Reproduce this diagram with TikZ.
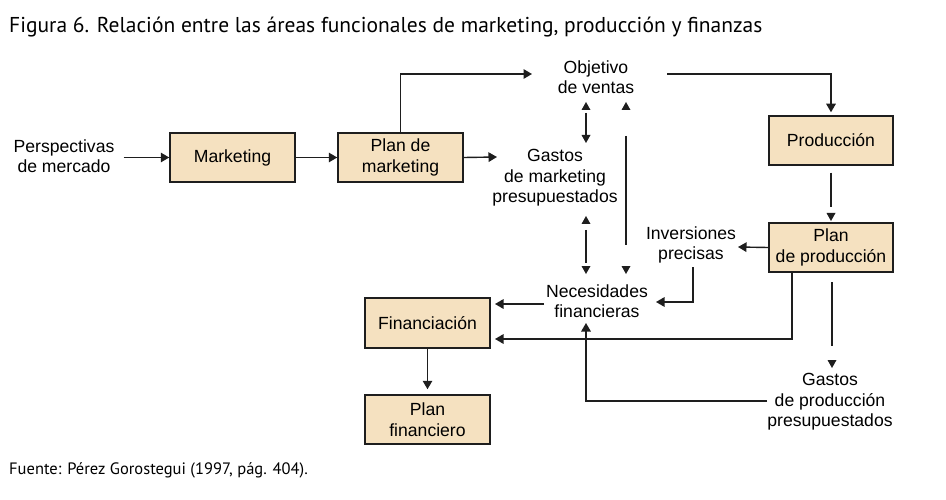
\documentclass[tikz,border=0pt]{standalone}
\usepackage{fontspec}
\setmainfont{Liberation Sans}
\newfontfamily\capfont{PT Sans}
\usetikzlibrary{arrows.meta}
\definecolor{boxfill}{RGB}{245,225,192}
\definecolor{ink}{RGB}{30,30,30}
\newcommand\tipdown[1]{\fill[ink] (#1) -- ++(-4.5,-8) -- ++(9,0) -- cycle;}
\newcommand\tipup[1]{\fill[ink] (#1) -- ++(-4.5,8) -- ++(9,0) -- cycle;}
\begin{document}
\begin{tikzpicture}[x=1pt,y=-1pt,
  box/.style={draw=ink, line width=1.5pt, fill=boxfill, minimum width=125pt, minimum height=49pt, inner sep=0pt, align=center, font=\fontsize{17.6}{20.5}\selectfont},
  lbl/.style={align=center, inner sep=0pt, font=\fontsize{17.6}{20.5}\selectfont},
  conn/.style={draw=ink, line width=1.4pt},
  arr/.style={conn, -{Triangle[width=9.5pt,length=8.5pt]}},
]
\useasboundingbox (0,0) rectangle (946,500);
\fill[white] (0,0) rectangle (946,500);

\node[anchor=base west, inner sep=0pt, font=\capfont\fontsize{21.5}{24}\selectfont] (title) at (9,33) {Figura 6. Relación entre las áreas funcionales de marketing, producción y finanzas};
\node[anchor=base west, inner sep=0pt, font=\capfont\fontsize{16.5}{19}\selectfont] (src) at (9,474) {Fuente: Pérez Gorostegui (1997, pág. 404).};

% boxes
\node[box] (mkt) at (232.5,157.5) {Marketing};
\node[box] (pmkt) at (400.5,157.5) {Plan de\\marketing};
\node[box, minimum width=124pt] (prod) at (831,140.5) {Producción};
\node[box, minimum width=124pt] (pprod) at (831,247.5) {Plan\\de producción};
\node[box, minimum height=50pt] (fin) at (427.5,323) {Financiación};
\node[box] (pfin) at (427.5,419.5) {Plan\\financiero};

% labels
\node[lbl] (persp) at (64,156) {Perspectivas\\de mercado};
\node[lbl] (obj) at (596,77) {Objetivo\\de ventas};
\node[lbl] (gmkt) at (555,178) {Gastos\\de marketing\\presupuestados};
\node[lbl] (inv) at (691,245) {Inversiones\\precisas};
\node[lbl] (nec) at (597,301) {Necesidades\\financieras};
\node[lbl] (gprod) at (830,402) {Gastos\\de producción\\presupuestados};

% coordinates
\coordinate (objin) at (532,74);
\coordinate (gin) at (497,157);
\coordinate (objout) at (667,74);
\coordinate (invin) at (738,247);
\coordinate (invout) at (693,267);
\coordinate (necin) at (656,302);
\coordinate (necout) at (544,304);
\coordinate (finin1) at (495,304);
\coordinate (pprodout) at (792,272);
\coordinate (finin2) at (495,339);
\coordinate (gprodout) at (767,401);
\coordinate (necin2) at (586,323);

% connectors
\draw[arr, shorten <=9pt] (persp.east |- mkt.west) -- (mkt.west);
\draw[arr] (mkt.east) -- (pmkt.west);
\draw[arr] (pmkt.north) |- (objin);
\draw[arr] (pmkt.east) -- (gin);
\draw[arr, shorten >=3pt] (objout) -| (prod.north);
\draw[conn, shorten <=7pt] (prod.south) -- (831,207);
\tipdown{831,221}

\tipup{586,102}
\draw[conn] (586,113) -- (586,135);
\tipdown{586,143}

\tipup{626,102}
\draw[conn] (626,136) -- (626,245);
\tipdown{626,274}

\tipup{586,216}
\draw[conn] (586,230) -- (586,263);
\tipdown{586,274}

\draw[arr] (pprod.west) -- (invin);
\draw[arr] (invout) |- (necin);
\draw[arr] (necout) -- (finin1);
\draw[arr] (pprodout) |- (finin2);
\draw[arr, shorten >=5pt] (fin.south) -- (pfin.north);
\draw[conn] (832,282) -- (832,346);
\tipdown{832,368}
\draw[arr] (gprodout) -| (necin2);
\end{tikzpicture}
\end{document}
